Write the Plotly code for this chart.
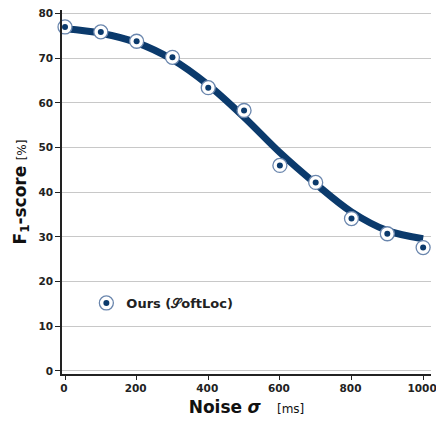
import plotly.graph_objects as go

# Data
noise_ms = [0, 100, 200, 300, 400, 500, 600, 700, 800, 900, 1000]
f1_points = [77.0, 75.9, 73.8, 70.2, 63.4, 58.3, 46.0, 42.2, 34.1, 30.7, 27.6]
# smooth fitted trend line
f1_curve = [76.6, 75.6, 73.5, 69.7, 64.0, 56.8, 48.9, 41.9, 35.6, 31.4, 29.6]
x_ticks = [0, 200, 400, 600, 800, 1000]
y_ticks = [0, 10, 20, 30, 40, 50, 60, 70, 80]
series_name = "Ours (\U0001D4AEoftLoc)"

NAVY = "#0b3a6c"
RING = "#6a86ad"
FONT = "DejaVu Sans"

fig = go.Figure()
fig.add_trace(go.Scatter(
    x=noise_ms, y=f1_curve, mode="lines",
    line=dict(color=NAVY, width=7, shape="spline", smoothing=1.0),
    showlegend=False, hoverinfo="skip", cliponaxis=False))
fig.add_trace(go.Scatter(
    x=noise_ms, y=f1_points, mode="markers", name=series_name,
    marker=dict(symbol="circle", size=14, color="white",
                line=dict(color=RING, width=1.3)),
    legend="legend", cliponaxis=False))
fig.add_trace(go.Scatter(
    x=noise_ms, y=f1_points, mode="markers", name=series_name,
    marker=dict(symbol="circle", size=6, color=NAVY, line=dict(width=0)),
    legend="legend2", cliponaxis=False))

legend_common = dict(x=0.066, y=0.195, xanchor="left", yanchor="middle",
                     bgcolor="rgba(0,0,0,0)", borderwidth=0,
                     itemwidth=30, tracegroupgap=0)

fig.update_layout(
    width=436, height=421,
    margin=dict(l=62, r=5, t=10, b=47),
    paper_bgcolor="white", plot_bgcolor="white",
    font=dict(family=FONT, color="#222222"),
    legend=dict(**legend_common,
                font=dict(family=FONT, size=13, color="#222222", weight="bold")),
    legend2=dict(**legend_common,
                 font=dict(family=FONT, size=13, color="rgba(0,0,0,0)", weight="bold")),
    xaxis=dict(
        range=[-8.4, 1022], tickvals=x_ticks, automargin=False,
        ticklabeloverflow="allow", ticklabelshift=-1,
        showgrid=False, zeroline=False,
        showline=True, linecolor="#222222", linewidth=1.5,
        ticks="outside", ticklen=4, tickcolor="#222222", tickwidth=1.2,
        tickfont=dict(family=FONT, size=10.5, color="#222222", weight="bold"),
        title=dict(text="<b>Noise</b> <b><i>σ</i></b>   <span style='font-size:12px'>[ms]</span>",
                   font=dict(family=FONT, size=17, color="#111111"), standoff=8),
    ),
    yaxis=dict(
        range=[-0.7, 80.8], tickvals=y_ticks, automargin=False,
        ticklabeloverflow="allow",
        showgrid=True, gridcolor="#c8c8c8", gridwidth=1, zeroline=False,
        showline=True, linecolor="#222222", linewidth=1.5,
        ticks="outside", ticklen=5, tickcolor="#222222", tickwidth=1.2,
        tickfont=dict(family=FONT, size=10.5, color="#222222", weight="bold"),
        title=dict(text="<b>F<sub>1</sub>-score</b> <span style='font-size:12px'>[%]</span>",
                   font=dict(family=FONT, size=17, color="#111111"), standoff=8),
    ),
)

fig.write_html(
    "out.html",
    config={"displayModeBar": False},
    post_script="document.body.style.margin='0';document.body.style.padding='0';",
)
